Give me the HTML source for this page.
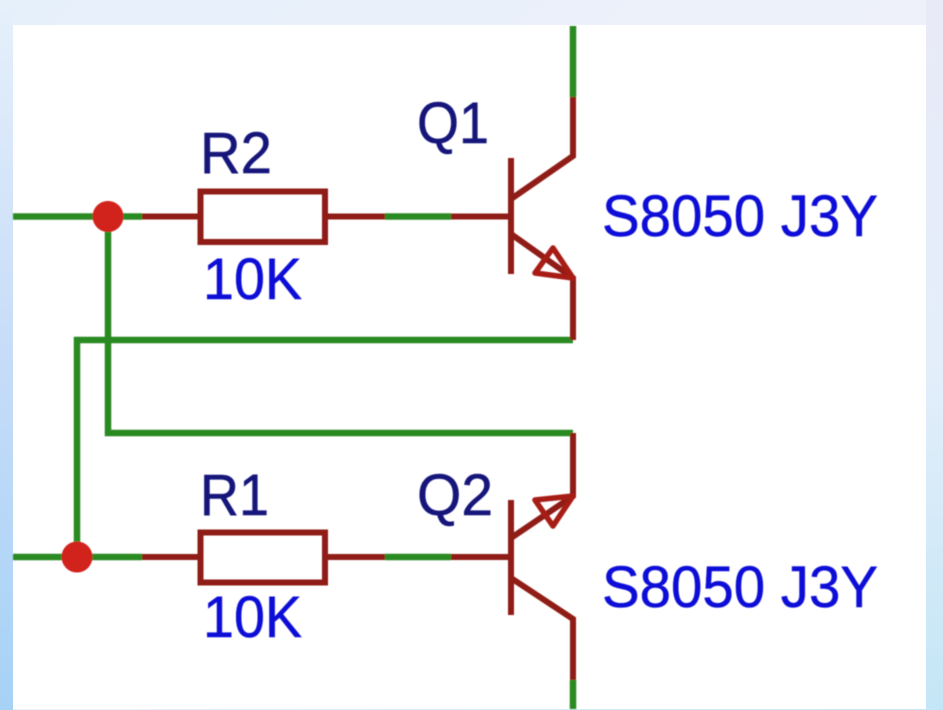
<!DOCTYPE html>
<html>
<head>
<meta charset="utf-8">
<style>
html,body{margin:0;padding:0;width:943px;height:710px;overflow:hidden;background:#fff}
svg{display:block}
text{font-family:"Liberation Sans",sans-serif;font-size:58px;stroke-width:0.5}
.n{fill:#12127a;stroke:#12127a}
.v{fill:#1010d8;stroke:#1010d8}
.g{stroke:#2a8a20;stroke-width:6.5;fill:none;stroke-linejoin:miter;stroke-linecap:butt}
.r{stroke:#8f1a12;stroke-width:6;fill:none;stroke-linejoin:miter;stroke-linecap:butt}
.a{stroke:#a81c14;stroke-width:5.5;fill:none;stroke-linejoin:round;stroke-linecap:round}
</style>
</head>
<body>
<svg width="943" height="710" viewBox="0 0 943 710" xmlns="http://www.w3.org/2000/svg">
<defs>
<linearGradient id="bg" x1="0" y1="0" x2="1" y2="1">
<stop offset="0" stop-color="#e6f0fb"/>
<stop offset="0.5" stop-color="#eef1fa"/>
<stop offset="1" stop-color="#c6e6f6"/>
</linearGradient>
<linearGradient id="left" x1="0" y1="0" x2="0" y2="1">
<stop offset="0" stop-color="#e6f0fb"/>
<stop offset="0.5" stop-color="#c6dcf8"/>
<stop offset="1" stop-color="#a6d2f6"/>
</linearGradient>
<linearGradient id="right" x1="0" y1="0" x2="0" y2="1">
<stop offset="0" stop-color="#e8eaf8"/>
<stop offset="0.5" stop-color="#e4eefa"/>
<stop offset="1" stop-color="#c4e6f6"/>
</linearGradient>
<filter id="b" x="-5%" y="-5%" width="110%" height="110%"><feGaussianBlur stdDeviation="0.6"/></filter>
</defs>
<rect width="943" height="710" fill="url(#bg)"/>
<rect x="0" y="0" width="13" height="710" fill="url(#left)"/>
<rect x="926" y="0" width="17" height="710" fill="url(#right)"/>
<rect x="13" y="25" width="913" height="684" fill="#fff"/>
<g filter="url(#b)">
<path class="g" d="M13 216.500H142M13 557H142M385 216.500H451M385 557H451"/>
<path class="g" d="M573 26V97M573 680V709"/>
<path class="g" d="M573 340H77V557"/>
<path class="g" d="M108 216V433H573"/>
<path class="r" d="M142 216.500H200M325 216.500H385M451 216.500H511"/>
<path class="r" d="M142 557H200M325 557H385M451 557H511"/>
<rect class="r" x="200.500" y="191.500" width="124.500" height="50.500"/>
<rect class="r" x="200.500" y="532.500" width="124.500" height="50"/>
<path class="r" d="M511 158V274M511 199L573 156V97"/>
<path class="r" d="M511 234L573 278V340"/>
<path class="a" d="M573 278L535 273L553 248Z"/>
<path class="r" d="M511 500V615M511 578L573 619V680"/>
<path class="r" d="M511 538L573 496V433"/>
<path class="a" d="M573 496L535 500L553 526Z"/>
<circle cx="108" cy="216.500" r="15.500" fill="#d2201a"/>
<circle cx="77" cy="557" r="15.500" fill="#d2201a"/>
<text class="n" x="200" y="173" textLength="72" lengthAdjust="spacingAndGlyphs">R2</text>
<text class="v" x="203" y="299" textLength="99" lengthAdjust="spacingAndGlyphs">10K</text>
<text class="n" x="417" y="143" textLength="72" lengthAdjust="spacingAndGlyphs">Q1</text>
<text class="v" x="602" y="236" textLength="276" lengthAdjust="spacingAndGlyphs">S8050 J3Y</text>
<text class="n" x="200" y="515" textLength="69" lengthAdjust="spacingAndGlyphs">R1</text>
<text class="v" x="203" y="637" textLength="99" lengthAdjust="spacingAndGlyphs">10K</text>
<text class="n" x="417" y="515" textLength="76" lengthAdjust="spacingAndGlyphs">Q2</text>
<text class="v" x="602" y="607" textLength="276" lengthAdjust="spacingAndGlyphs">S8050 J3Y</text>
</g>
</svg>
</body>
</html>
